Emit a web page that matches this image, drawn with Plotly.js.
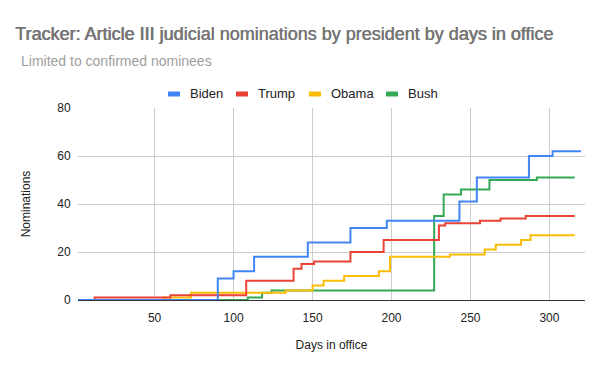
<!DOCTYPE html>
<html>
<head>
<meta charset="utf-8">
<script src="https://cdn.plot.ly/plotly-3.0.1.min.js"></script>
<style>html,body{margin:0;padding:0;background:#fff;}#chart{width:600px;height:371px;}</style>
</head>
<body>
<div id="chart"></div>
<script>
// Step data: day of change and cumulative confirmed nominations
const bidenDays  = [1, 90, 100, 113, 147, 174, 197, 243, 254, 287, 302, 320];
const bidenVals  = [0, 9, 12, 18, 24, 30, 33, 41, 51, 60, 62, 62];
const trumpDays  = [1, 12, 60, 108, 138, 143, 151, 174, 195, 230, 234, 256, 269, 285, 316];
const trumpVals  = [0, 1, 2, 8, 13, 15, 16, 20, 25, 31, 32, 33, 34, 35, 35];
const obamaDays  = [1, 56, 73, 133, 150, 157, 170, 192, 199, 237, 259, 266, 282, 288, 316];
const obamaVals  = [0, 1, 3, 4, 6, 8, 10, 12, 18, 19, 21, 23, 25, 27, 27];
const bushDays   = [1, 109, 118, 124, 227, 233, 244, 262, 292, 316];
const bushVals   = [0, 1, 3, 4, 35, 44, 46, 50, 51, 51];

const seriesNames = ["Biden", "Trump", "Obama", "Bush"];
const seriesColors = ["#4285F4", "#EA4335", "#FBBC04", "#34A853"];
const seriesDays = [bidenDays, trumpDays, obamaDays, bushDays];
const seriesVals = [bidenVals, trumpVals, obamaVals, bushVals];

const title = "Tracker: Article III judicial nominations by president by days in office";
const subtitle = "Limited to confirmed nominees";
const xTitle = "Days in office";
const yTitle = "Nominations";

const FONT = "Arial, 'Liberation Sans', sans-serif";

const order = [3, 2, 1, 0];
const traces = order.map(i => ({
  type: "scatter",
  mode: "lines",
  name: seriesNames[i],
  x: seriesDays[i],
  y: seriesVals[i],
  line: {color: seriesColors[i], width: 2, shape: "hv"},
  showlegend: false,
  hoverinfo: "x+y+name"
}));

// custom legend (swatch + label), positioned in paper coordinates
const plotL = 78, plotR = 585, plotT = 108, plotB = 300;
const pw = plotR - plotL, ph = plotB - plotT;
const px = v => (v - plotL) / pw;
const py = v => (plotB - v) / ph;
const legendSwatchX = [168, 236, 309, 386];
const legendY = 94;

const shapes = seriesNames.map((n, i) => ({
  type: "rect", xref: "paper", yref: "paper", layer: "above",
  x0: px(legendSwatchX[i]), x1: px(legendSwatchX[i] + 12),
  y0: py(legendY + 2.5), y1: py(legendY - 2.5),
  fillcolor: seriesColors[i], line: {width: 0}
}));

const annotations = seriesNames.map((n, i) => ({
  text: n, xref: "paper", yref: "paper",
  x: px(legendSwatchX[i] + 20), y: py(legendY),
  xanchor: "left", yanchor: "middle", showarrow: false,
  font: {family: FONT, size: 13, color: "#222222"}
}));
annotations.push({
  text: subtitle, xref: "paper", yref: "paper",
  x: px(19), y: py(61), xanchor: "left", yanchor: "middle", showarrow: false,
  font: {family: FONT, size: 14, color: "#9e9e9e"}
});

const layout = {
  width: 600, height: 371,
  margin: {l: plotL, r: 600 - plotR, t: plotT, b: 371 - plotB, pad: 0},
  paper_bgcolor: "#ffffff", plot_bgcolor: "#ffffff",
  font: {family: FONT, size: 12, color: "#444444"},
  title: {
    text: title, xref: "container", yref: "container",
    x: 15 / 600, xanchor: "left", y: 1 - 33.5 / 371, yanchor: "middle",
    font: {family: FONT, size: 18, color: "#757575", weight: 400, shadow: "0.6px 0px 0px #757575"}
  },
  xaxis: {
    range: [1.5, 322.5], dtick: 50, tick0: 0,
    showgrid: true, gridcolor: "#cccccc", gridwidth: 1,
    zeroline: false, showline: true, linecolor: "#333333", linewidth: 1,
    ticks: "outside", ticklen: 7, tickcolor: "rgba(0,0,0,0)",
    tickfont: {family: FONT, size: 12, color: "#222222"},
    title: {text: xTitle, font: {family: FONT, size: 12, color: "#222222"}, standoff: 16},
    fixedrange: true
  },
  yaxis: {
    range: [0, 80], dtick: 20, tick0: 0,
    showgrid: true, gridcolor: "#cccccc", gridwidth: 1,
    zeroline: false, showline: false,
    ticks: "outside", ticklen: 4, tickcolor: "rgba(0,0,0,0)",
    tickfont: {family: FONT, size: 12, color: "#222222"},
    title: {text: yTitle, font: {family: FONT, size: 12, color: "#222222"}, standoff: 24},
    fixedrange: true
  },
  shapes: shapes,
  annotations: annotations,
  showlegend: false
};

Plotly.newPlot("chart", traces, layout, {displayModeBar: false, staticPlot: true});
</script>
</body>
</html>
